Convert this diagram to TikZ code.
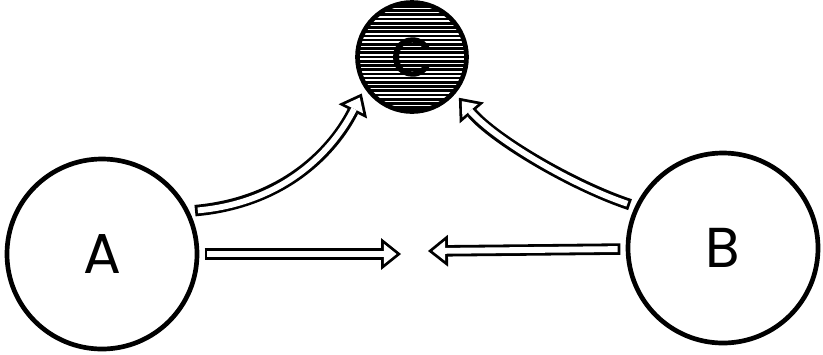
\documentclass[tikz,border=0pt]{standalone}
\usepackage{fontspec}
\setmainfont{Poppins}
\newfontfamily\heavyfont{Poppins}[FakeBold=2]
\usetikzlibrary{arrows.meta}

\begin{document}
\begin{tikzpicture}[x=0.03cm, y=-0.03cm,
    ball/.style={circle, draw, line width=4pt, inner sep=0pt, outer sep=6.5pt,
        minimum size=5.7cm, font=\fontsize{48}{48}\selectfont},
    hout/.style={line width=9.8pt, -{Triangle[length=17pt, width=27.2pt, line width=0pt]}},
    hin/.style={white, line width=5pt, shorten <=2.4pt, shorten >=3.84pt,
        -{Triangle[length=10.76pt, width=17.2pt, line width=0pt]}}]
    \useasboundingbox (0,0) rectangle (823,354);

    % --- the two big bodies ---
    \node[ball] (A) at (102,254) {A};
    \node[ball] (B) at (723,248) {B};

    % --- small body, hatched with horizontal lines ---
    \node[ball, minimum size=3.27cm, font=\heavyfont\fontsize{46}{46}\selectfont,
        path picture={
            \foreach \i in {-14,...,14}
                \draw[line width=2.3pt] ([yshift=\i*3.6pt]path picture bounding box.west)
                    -- ([yshift=\i*3.6pt]path picture bounding box.east);
        }] (C) at (412,57) {C};

    % --- free ends of the straight arrows ---
    \coordinate (mA) at (401,254);
    \coordinate (mB) at (428,251);

    % --- hollow arrows: black body first, white core on top ---
    \foreach \s in {hout,hin} {
        \draw[\s] (A) -- (mA);
        \draw[\s] (B) -- (mB);
        \draw[\s] (A.25) .. controls +(90,-8) and +(-28,56) .. (C.216);
        \draw[\s] (B.155) .. controls +(-57,-19) and +(36,42) .. (C.319);
    }
\end{tikzpicture}
\end{document}
